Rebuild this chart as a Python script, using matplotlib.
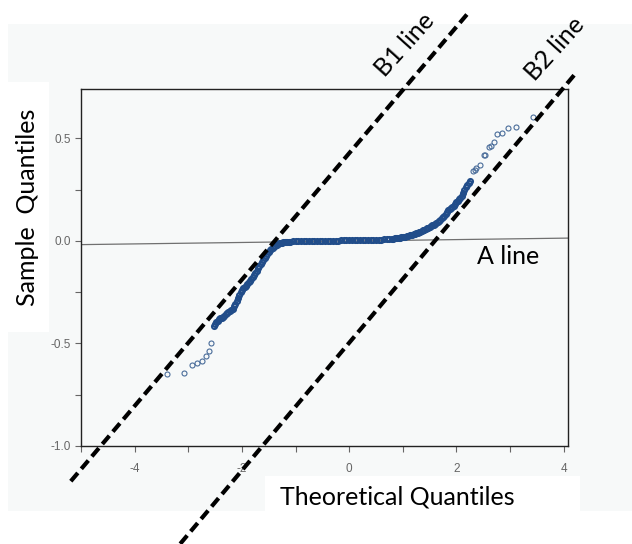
import matplotlib
matplotlib.use("Agg")
import matplotlib.pyplot as plt
from matplotlib.patches import Rectangle
from matplotlib.ticker import MultipleLocator, FuncFormatter

# QQ points
# sparse tails
tail_x = [-3.40, -3.08, -2.93, -2.84, -2.75, -2.67, -2.61, -2.57,
          2.31, 2.34, 2.37, 2.43, 2.51, 2.54, 2.60, 2.64, 2.70, 2.76,
          2.85, 2.96, 3.11, 3.43]
tail_y = [-0.650, -0.644, -0.605, -0.595, -0.586, -0.563, -0.537, -0.498,
          0.340, 0.345, 0.356, 0.372, 0.417, 0.417, 0.456, 0.461, 0.482,
          0.522, 0.526, 0.550, 0.555, 0.603]

# dense body (points overlap into a band)
body_x = [
    -2.525, -2.500, -2.475, -2.450, -2.425, -2.400, -2.375, -2.350,
    -2.325, -2.300, -2.275, -2.250, -2.225, -2.200, -2.175, -2.150,
    -2.125, -2.100, -2.075, -2.050, -2.025, -2.000, -1.975, -1.950,
    -1.925, -1.900, -1.875, -1.850, -1.825, -1.800, -1.775, -1.750,
    -1.725, -1.700, -1.675, -1.650, -1.625, -1.600, -1.575, -1.550,
    -1.525, -1.500, -1.475, -1.450, -1.425, -1.400, -1.375, -1.350,
    -1.325, -1.300, -1.275, -1.250, -1.225, -1.200, -1.175, -1.150,
    -1.125, -1.100,
    -1.05, -1.00, -0.95, -0.90, -0.85, -0.80, -0.75, -0.70, -0.65,
    -0.60, -0.55, -0.50, -0.45, -0.40, -0.35, -0.30, -0.25, -0.20,
    -0.15, -0.10, -0.05, 0.00, 0.05, 0.10, 0.15, 0.20, 0.25, 0.30,
    0.35, 0.40, 0.45, 0.50, 0.55, 0.60, 0.65, 0.70, 0.75, 0.80,
    0.825, 0.850, 0.875, 0.900, 0.925, 0.950, 0.975, 1.000, 1.025,
    1.050, 1.075, 1.100, 1.125, 1.150, 1.175, 1.200, 1.225, 1.250,
    1.275, 1.300, 1.325, 1.350, 1.375, 1.400, 1.425, 1.450, 1.475,
    1.500, 1.525, 1.550, 1.575, 1.600, 1.625, 1.650, 1.675, 1.700,
    1.725, 1.750, 1.775, 1.800, 1.825, 1.850, 1.875, 1.900, 1.925,
    1.950, 1.975, 2.000, 2.025, 2.050, 2.075, 2.100, 2.125, 2.150,
    2.175, 2.200, 2.225, 2.250,
]
body_y = [
    -0.413, -0.404, -0.397, -0.389, -0.383, -0.378, -0.374, -0.369,
    -0.364, -0.359, -0.354, -0.348, -0.343, -0.337, -0.330, -0.320,
    -0.308, -0.293, -0.278, -0.263, -0.250, -0.240, -0.232, -0.225,
    -0.218, -0.210, -0.202, -0.195, -0.187, -0.178, -0.168, -0.158,
    -0.146, -0.134, -0.124, -0.114, -0.105, -0.094, -0.084, -0.073,
    -0.063, -0.054, -0.046, -0.039, -0.033, -0.027, -0.023, -0.019,
    -0.016, -0.013, -0.011, -0.009, -0.008, -0.007, -0.006, -0.005,
    -0.005, -0.004,
    -0.003, -0.003, -0.002, -0.002, -0.001, -0.001, -0.001, 0.000, 0.000,
    0.000, 0.000, 0.000, 0.000, 0.000, 0.001, 0.001, 0.001, 0.001,
    0.002, 0.002, 0.002, 0.002, 0.002, 0.003, 0.003, 0.003, 0.003, 0.004,
    0.004, 0.004, 0.005, 0.005, 0.006, 0.006, 0.007, 0.008, 0.009, 0.010,
    0.011, 0.012, 0.013, 0.014, 0.015, 0.016, 0.018, 0.019, 0.020,
    0.021, 0.023, 0.024, 0.026, 0.028, 0.030, 0.032, 0.034, 0.037,
    0.039, 0.042, 0.045, 0.048, 0.051, 0.054, 0.057, 0.061, 0.064,
    0.068, 0.071, 0.075, 0.079, 0.083, 0.088, 0.093, 0.098, 0.103,
    0.109, 0.116, 0.123, 0.131, 0.139, 0.148, 0.155, 0.162, 0.167,
    0.172, 0.178, 0.187, 0.195, 0.202, 0.210, 0.220, 0.232, 0.248,
    0.260, 0.272, 0.282, 0.290,
]

# reference lines: (slope, intercept, x start, x end)
a_line = (0.0035, -0.001, -5.0, 4.1)
b1_line = (0.308, 0.427, -5.19, 2.24)
b2_line = (0.311, -0.497, -3.15, 4.20)

W, H = 632, 544
PANEL = '#f7f9f9'
POINT = '#214d8a'

def fx(px):
    return px / W

def fy(py):
    return 1 - py / H

fig = plt.figure(figsize=(W / 100, H / 100), dpi=100)
fig.patch.set_facecolor('white')

# light panel behind everything, white boxes behind axis titles
fig.add_artist(Rectangle((fx(8), fy(511)), fx(W - 8), (511 - 24) / H,
                         transform=fig.transFigure, facecolor=PANEL,
                         edgecolor='none', zorder=0))
fig.add_artist(Rectangle((fx(8), fy(332)), fx(41), (332 - 82) / H,
                         transform=fig.transFigure, facecolor='white',
                         edgecolor='none', zorder=0.5))
fig.add_artist(Rectangle((fx(265), fy(520)), fx(315), (520 - 476) / H,
                         transform=fig.transFigure, facecolor='white',
                         edgecolor='none', zorder=0.5))

ax = fig.add_axes([fx(81), fy(446), fx(568 - 81), (446 - 89) / H])
ax.set_facecolor(PANEL)
ax.set_xlim(-5.0, 4.08)
ax.set_ylim(-1.0, 0.74)

ax.xaxis.set_major_locator(MultipleLocator(1))
ax.yaxis.set_major_locator(MultipleLocator(0.25))
ax.xaxis.set_major_formatter(FuncFormatter(
    lambda v, p: f"{v:.0f}" if round(v) % 2 == 0 else ""))
ax.yaxis.set_major_formatter(FuncFormatter(
    lambda v, p: f"{v:.1f}" if abs(v * 2 - round(v * 2)) < 1e-6 else ""))
ax.tick_params(direction='out', length=4, width=0.8, color='#666666',
               labelsize=8.5, labelcolor='#666666')
ax.tick_params(axis='x', pad=8)
ax.tick_params(axis='y', pad=3)
for lab in ax.get_xticklabels() + ax.get_yticklabels():
    lab.set_family('Liberation Sans')
for sp in ax.spines.values():
    sp.set_color('#222222')
    sp.set_linewidth(1.0)

# A line
s, b, x0, x1 = a_line
ax.plot([x0, x1], [s * x0 + b, s * x1 + b], color='#707070', lw=0.9, zorder=2)

ax.plot(body_x, body_y, linestyle='none', marker='o', markersize=3.6,
        markerfacecolor='none', markeredgecolor=POINT,
        markeredgewidth=1.5, zorder=3)
ax.plot(tail_x, tail_y, linestyle='none', marker='o', markersize=3.6,
        markerfacecolor='none', markeredgecolor='#4a6d9a',
        markeredgewidth=0.8, zorder=3)

# B lines run past the frame
for s, b, x0, x1 in (b1_line, b2_line):
    ax.plot([x0, x1], [s * x0 + b, s * x1 + b], color='black', lw=3.0,
            linestyle=(0, (2.6, 1.3)), dash_capstyle='butt',
            clip_on=False, zorder=5)

font = 'Lato'
fig.text(fx(28), fy(207), 'Sample  Quantiles', rotation=90, ha='center',
         va='center', fontsize=18, family=font, zorder=6)
fig.text(fx(397), fy(497), 'Theoretical Quantiles', ha='center',
         va='center', fontsize=18, family=font, zorder=6)
fig.text(fx(508), fy(257), 'A line', ha='center', va='center',
         fontsize=18, family=font, zorder=6)
fig.text(fx(405), fy(45), 'B1 line', ha='center', va='center',
         fontsize=18, family=font, rotation=48, zorder=6)
fig.text(fx(555), fy(49), 'B2 line', ha='center', va='center',
         fontsize=18, family=font, rotation=48, zorder=6)

fig.savefig('out.png', dpi=100)
